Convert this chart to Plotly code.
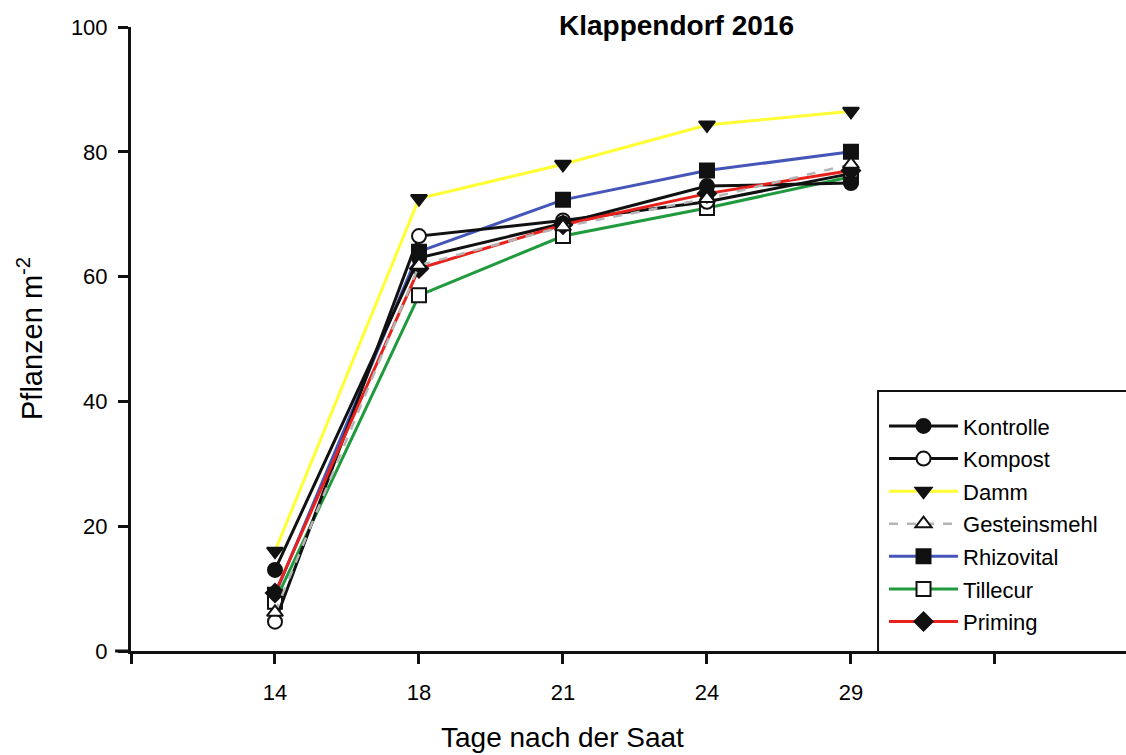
import plotly.graph_objects as go

days = ["14", "18", "21", "24", "29"]
positions = [1, 2, 3, 4, 5]

kontrolle = [13.0, 63.0, 68.5, 74.5, 75.0]
kompost = [4.7, 66.5, 69.0, 72.0, 76.5]
damm = [16.0, 72.5, 78.0, 84.3, 86.5]
gesteinsmehl = [6.2, 61.8, 68.0, 72.5, 78.0]
rhizovital = [9.0, 64.0, 72.3, 77.0, 80.0]
tillecur = [7.9, 57.0, 66.5, 71.0, 76.0]
priming = [9.3, 61.3, 68.3, 73.3, 77.0]

FONT = "Liberation Sans, Arial, sans-serif"

series = [
    # name, values, line color, dash, width, symbol, fill, rank
    ("Rhizovital", rhizovital, "#4656b8", "solid", 3, "square", "#111111", 5),
    ("Tillecur", tillecur, "#1f9a3c", "solid", 3, "square", "white", 6),
    ("Kompost", kompost, "#111111", "solid", 3, "circle", "white", 2),
    ("Kontrolle", kontrolle, "#111111", "solid", 3, "circle", "#111111", 1),
    ("Priming", priming, "#e8211d", "solid", 3, "diamond", "#111111", 7),
    ("Gesteinsmehl", gesteinsmehl, "#b5b5b5", "dash", 2.5, "triangle-up", "white", 4),
    ("Damm", damm, "#ffff33", "solid", 3, "triangle-down", "#111111", 3),
]

fig = go.Figure()
for name, vals, col, dash, w, sym, fill, rank in series:
    fig.add_trace(go.Scatter(
        x=positions, y=vals, name=name, mode="lines+markers",
        line=dict(color=col, width=w, dash=dash),
        marker=dict(symbol=sym, size=14, color=fill,
                    line=dict(color="#111111", width=2)),
        legendrank=rank, legendgroup=name,
    ))

fig.update_layout(
    width=1126, height=755,
    margin=dict(l=131, r=0, t=27, b=104),
    plot_bgcolor="white", paper_bgcolor="white",
    font=dict(family=FONT, color="black"),
    showlegend=True,
    legend=dict(
        x=0.7568, y=0.394, xanchor="left", yanchor="top",
        borderwidth=0, bgcolor="rgba(0,0,0,0)",
        font=dict(family=FONT, size=22, color="black"),
        itemwidth=69, tracegroupgap=1,
    ),
)

fig.update_xaxes(
    range=[0, 6.91], tickmode="array",
    tickvals=positions, ticktext=days,
    showline=True, linecolor="#111111", linewidth=3,
    ticks="outside", ticklen=10, tickwidth=3, tickcolor="#111111",
    minor=dict(tickmode="array", tickvals=[0, 6], ticks="outside",
               ticklen=10, tickwidth=3, tickcolor="#111111", showgrid=False),
    showgrid=False, zeroline=False,
    tickfont=dict(family=FONT, size=22, color="black"),
    ticklabelstandoff=10,
)
fig.update_yaxes(
    range=[0, 100], tickvals=[0, 20, 40, 60, 80, 100],
    showline=True, linecolor="#111111", linewidth=3,
    ticks="outside", ticklen=10, tickwidth=3, tickcolor="#111111",
    showgrid=False, zeroline=False,
    tickfont=dict(family=FONT, size=22, color="black"),
    ticklabelstandoff=6,
)

# small extension of x axis line to the left of the y axis
fig.add_shape(type="line", xref="paper", yref="paper",
              x0=-0.016, x1=0, y0=0, y1=0,
              line=dict(color="#111111", width=3))
# legend frame (runs off the right edge as in the original)
fig.add_shape(type="rect", xref="paper", yref="paper",
              x0=0.7508, x1=1.02, y0=-0.0032, y1=0.4167,
              line=dict(color="#111111", width=2), fillcolor="white",
              layer="below")

fig.add_annotation(text="<b>Klappendorf 2016</b>", xref="paper", yref="paper",
                   x=0.548, y=1.003, xanchor="center", yanchor="middle",
                   showarrow=False, font=dict(family=FONT, size=28, color="black"))
fig.add_annotation(text="Tage nach der Saat", xref="paper", yref="paper",
                   x=0.434, y=-0.138, xanchor="center", yanchor="middle",
                   showarrow=False, font=dict(family=FONT, size=28, color="black"))
fig.add_annotation(text="Pflanzen m<sup>-2</sup>", xref="paper", yref="paper",
                   x=-0.1015, y=0.500, xanchor="center", yanchor="middle",
                   textangle=-90,
                   showarrow=False, font=dict(family=FONT, size=29, color="black"))

fig.write_html("out.html")
